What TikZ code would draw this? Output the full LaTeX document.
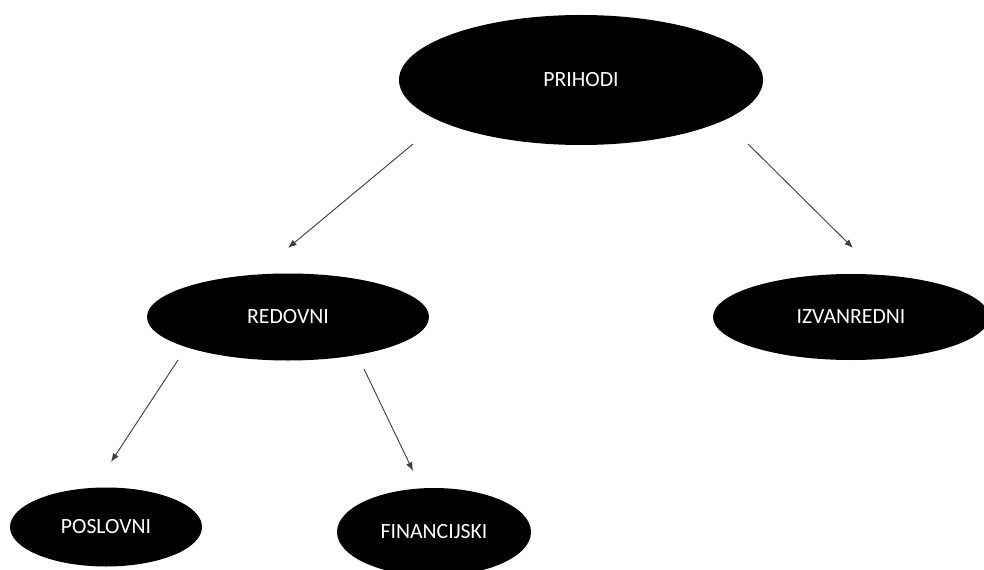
\documentclass[tikz,border=0pt]{standalone}
\usepackage{fontspec}
\setmainfont{Carlito}
\usetikzlibrary{shapes.geometric,arrows.meta}

\begin{document}
\begin{tikzpicture}[x=0.75pt,y=-0.75pt,
    blob/.style={ellipse, fill=black, text=white, inner sep=0pt,
      font=\fontsize{16.3}{19}\selectfont},
    link/.style={-{Latex[length=6.5pt,width=5pt]}, black!75, line width=0.7pt}]
  \useasboundingbox (0,0) rectangle (984,570);
  % the ellipses
  \node[blob, minimum width=273pt, minimum height=97.5pt] (pr) at (581,80) {PRIHODI};
  \node[blob, minimum width=211.5pt, minimum height=65.25pt] (re) at (288,317) {REDOVNI};
  \node[blob, minimum width=207pt, minimum height=64.5pt] (iz) at (851,317) {IZVANREDNI};
  \node[blob, minimum width=144pt, minimum height=59.25pt] (po) at (106,527) {POSLOVNI};
  \node[blob, minimum width=145.5pt, minimum height=66pt] (fi) at (434,532) {FINANCIJSKI};
  % arrow ends
  \coordinate (prL) at (413,144);
  \coordinate (reT) at (288,248);
  \coordinate (prR) at (748,144);
  \coordinate (izT) at (853,248);
  \coordinate (reL) at (178,360);
  \coordinate (poT) at (111,462);
  \coordinate (reR) at (364,369);
  \coordinate (fiT) at (413,471);
  \draw[link] (prL) -- (reT);
  \draw[link] (prR) -- (izT);
  \draw[link] (reL) -- (poT);
  \draw[link] (reR) -- (fiT);
\end{tikzpicture}
\end{document}
